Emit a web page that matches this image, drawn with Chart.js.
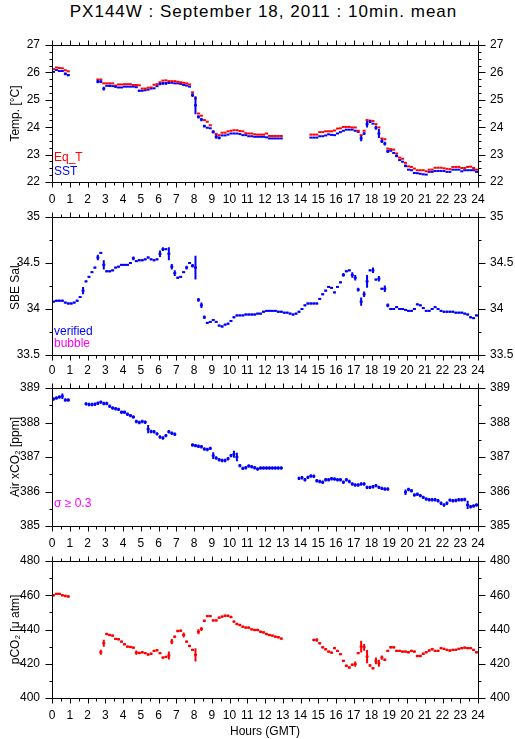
<!DOCTYPE html>
<html>
<head>
<meta charset="utf-8">
<script src="https://cdn.jsdelivr.net/npm/chart.js@4.4.1/dist/chart.umd.min.js"></script>
<style>
  body { margin: 0; background: #fff; }
  #page { position: relative; width: 515px; height: 739px; font-family: 'Liberation Sans', Arial, sans-serif; color: #000; }
  #title { position: absolute; left: 12px; top: 0; width: 503px; text-align: center; font-size: 17px; letter-spacing: 1px; line-height: 24px; }
  #xlabel { position: absolute; left: 52px; width: 426px; top: 723px; text-align: center; font-size: 12px; line-height: 16px; }
  canvas { position: absolute; left: 0; }
</style>
</head>
<body>
<div id="page">
  <div id="title">PX144W : September 18, 2011 : 10min. mean</div>
  <canvas id="tempChart" width="515" height="197" style="top:15px"></canvas>
  <canvas id="salChart" width="515" height="198" style="top:187px"></canvas>
  <canvas id="xco2Chart" width="515" height="198" style="top:358px"></canvas>
  <canvas id="pco2Chart" width="515" height="197" style="top:531px"></canvas>
  <div id="xlabel">Hours (GMT)</div>
</div>
<script>
// 10-minute means: slot k covers hours [k/6, (k+1)/6), one row per hour
const slotHours = Array.from({ length: 144 }, (_, k) => (k + 0.5) / 6);
const _ = null;

const eqT = [
  26.12, 26.18, 26.16, 26.15, 26.08, 26.04,
  _, _, _, _, _, _,
  _, _, _, 25.74, 25.74, 25.60,
  25.60, 25.60, 25.60, 25.52, 25.56, 25.56,
  25.57, 25.57, 25.57, 25.54, 25.54, 25.53,
  25.41, 25.41, 25.44, 25.45, 25.55, 25.57,
  25.64, 25.70, 25.71, 25.68, 25.68, 25.68,
  25.66, 25.64, 25.62, 25.60, 25.56, 25.27,
  25.05, 24.50, 24.42, 24.26, 24.20, 24.07,
  23.83, 23.75, 23.71, 23.80, 23.80, 23.85,
  23.87, 23.89, 23.89, 23.86, 23.85, 23.78,
  23.77, 23.77, 23.74, 23.73, 23.73, 23.73,
  23.77, 23.68, 23.68, 23.68, 23.68, 23.68,
  _, _, _, _, _, _,
  _, _, _, 23.73, 23.73, 23.73,
  23.82, 23.82, 23.85, 23.85, 23.85, 23.88,
  23.95, 23.96, 24.01, 24.01, 24.01, 23.99,
  23.99, 23.87, 23.71, 23.87, 24.26, 24.24,
  24.23, 24.11, 23.99, 23.59, 23.56, 23.22,
  23.20, 23.18, 23.04, 22.89, 22.85, 22.70,
  22.57, 22.55, 22.49, 22.43, 22.43, 22.43,
  22.39, 22.45, 22.45, 22.52, 22.52, 22.52,
  22.50, 22.48, 22.47, 22.55, 22.55, 22.55,
  22.51, 22.51, 22.55, 22.56, 22.51, 22.45
];

const sst = [
  26.02, 26.09, 26.05, 26.05, 25.95, 25.90,
  _, _, _, _, _, _,
  _, _, _, 25.66, 25.66, 25.41,
  25.51, 25.51, 25.50, 25.48, 25.45, 25.45,
  25.48, 25.48, 25.48, 25.48, 25.46, 25.33,
  25.33, 25.35, 25.37, 25.41, 25.42, 25.50,
  25.58, 25.60, 25.60, 25.62, 25.62, 25.60,
  25.60, 25.58, 25.54, 25.52, 25.48, 25.17,
  24.80, 24.38, 24.28, 24.04, 23.98, 23.96,
  23.83, 23.65, 23.61, 23.70, 23.70, 23.73,
  23.77, 23.77, 23.77, 23.75, 23.71, 23.71,
  23.67, 23.67, 23.65, 23.65, 23.65, 23.65,
  23.63, 23.59, 23.59, 23.59, 23.59, 23.59,
  _, _, _, _, _, _,
  _, _, _, 23.62, 23.62, 23.62,
  23.67, 23.67, 23.70, 23.74, 23.72, 23.71,
  23.77, 23.82, 23.87, 23.91, 23.91, 23.91,
  23.87, 23.83, 23.59, 23.77, 24.11, 24.20,
  24.13, 23.98, 23.77, 23.49, 23.40, 23.12,
  23.14, 23.06, 22.95, 22.80, 22.74, 22.59,
  22.45, 22.43, 22.33, 22.32, 22.30, 22.28,
  22.27, 22.37, 22.37, 22.40, 22.40, 22.40,
  22.40, 22.37, 22.37, 22.45, 22.45, 22.45,
  22.39, 22.43, 22.43, 22.43, 22.43, 22.37
];
// [slot, standard deviation] for the 10-min means with visible spread
const sstSigma = [
  [4, 0.05], [5, 0.04], [15, 0.06], [16, 0.05], [17, 0.07], [19, 0.04], [21, 0.04],
  [29, 0.04], [36, 0.05], [37, 0.05], [38, 0.05], [39, 0.04], [47, 0.07], [48, 0.33],
  [49, 0.06], [50, 0.06], [51, 0.05], [54, 0.06], [55, 0.07], [56, 0.05],
  [104, 0.10], [105, 0.05], [106, 0.12], [107, 0.05], [109, 0.07], [110, 0.16],
  [111, 0.07], [112, 0.07], [113, 0.06], [116, 0.05], [119, 0.05]
];

const salinity = [
  34.08, 34.09, 34.09, 34.09, 34.07, 34.06,
  34.06, 34.07, 34.09, 34.13, 34.20, 34.30,
  34.35, 34.40, 34.45, 34.56, 34.61, 34.48,
  34.41, 34.41, 34.42, 34.45, 34.46, 34.48,
  34.48, 34.48, 34.50, 34.55, 34.52, 34.53,
  34.53, 34.54, 34.56, 34.54, 34.53, 34.54,
  34.60, 34.65, 34.65, 34.60, 34.46, 34.39,
  34.34, 34.35, 34.40, 34.45, 34.50, 34.47,
  34.45, 34.10, 34.04, 33.91, 33.85, 33.86,
  33.88, 33.86, 33.82, 33.81, 33.83, 33.84,
  33.87, 33.91, 33.93, 33.93, 33.93, 33.94,
  33.94, 33.94, 33.94, 33.95, 33.95, 33.97,
  33.98, 33.98, 33.98, 33.98, 33.97, 33.97,
  33.96, 33.96, 33.95, 33.94, 33.95, 33.97,
  34.00, 34.04, 34.06, 34.06, 34.06, 34.06,
  34.11, 34.16, 34.20, 34.24, 34.23, 34.18,
  34.24, 34.29, 34.37, 34.41, 34.42, 34.37,
  34.34, 34.21, 34.08, 34.16, 34.30, 34.42,
  34.42, 34.32, 34.33, 34.22, 34.22, 34.04,
  34.00, 34.00, 34.02, 34.00, 34.00, 33.99,
  33.98, 33.98, 34.00, 34.05, 34.04, 34.01,
  33.98, 33.98, 34.00, 34.02, 34.00, 33.98,
  33.97, 33.97, 33.97, 33.97, 33.96, 33.96,
  33.96, 33.95, 33.94, 33.91, 33.90, 33.93
];
const salSigma = [
  [10, 0.04], [15, 0.03], [17, 0.05], [27, 0.02], [36, 0.035], [37, 0.02], [39, 0.07],
  [40, 0.03], [41, 0.03], [45, 0.02], [47, 0.02], [48, 0.13], [49, 0.02], [50, 0.03],
  [51, 0.02], [98, 0.02], [101, 0.03], [102, 0.03], [103, 0.02], [104, 0.045],
  [105, 0.03], [106, 0.07], [108, 0.03], [110, 0.03], [112, 0.035], [113, 0.02]
];

const xco2 = [
  388.68, 388.71, 388.74, 388.76, 388.65, 388.65,
  _, _, _, _, _, 388.54,
  388.52, 388.52, 388.53, 388.56, 388.59, 388.55,
  388.55, 388.47, 388.42, 388.40, 388.38, 388.30,
  388.30, 388.24, 388.20, 388.16, 388.03, 388.00,
  388.03, 388.01, 387.81, 387.74, 387.73, 387.67,
  387.58, 387.55, 387.62, 387.73, 387.69, 387.66,
  _, _, _, _, _, 387.35,
  387.33, 387.31, 387.30, 387.23, 387.22, 387.25,
  387.04, 386.97, 386.92, 386.90, 386.90, 386.95,
  387.04, 387.08, 387.00, 386.75, 386.67, 386.69,
  386.74, 386.72, 386.69, 386.65, 386.68, 386.68,
  386.68, 386.68, 386.68, 386.68, 386.68, 386.68,
  _, _, _, _, _, 386.38,
  386.40, 386.34, 386.41, 386.45, 386.44, 386.31,
  386.29, 386.27, 386.34, 386.34, 386.37, 386.36,
  386.34, 386.34, 386.27, 386.34, 386.29, 386.22,
  386.19, 386.19, 386.22, 386.22, 386.12, 386.12,
  386.14, 386.17, 386.12, 386.09, 386.07, 386.07,
  _, _, _, _, _, 385.98,
  386.06, 386.02, 385.90, 385.92, 385.88, 385.83,
  385.78, 385.76, 385.76, 385.76, 385.73, 385.66,
  385.61, 385.66, 385.75, 385.73, 385.74, 385.76,
  385.76, 385.77, 385.61, 385.56, 385.58, 385.61
];
const xco2SigmaBase = 0.05;
const xco2Sigma = [[3, 0.08], [32, 0.12], [54, 0.10], [61, 0.10], [62, 0.12], [119, 0.08], [140, 0.12]];

const pco2 = [
  460.0, 460.8, 460.8, 460.0, 459.6, 459.3,
  _, _, _, _, _, _,
  _, _, _, _, 426.7, 432.0,
  437.4, 436.8, 436.4, 434.5, 434.3, 432.9,
  431.4, 430.0, 429.8, 429.4, 426.5, 426.3,
  426.7, 426.2, 425.4, 425.8, 427.5, 427.9,
  426.2, 423.6, 424.0, 424.8, 432.9, 435.8,
  439.1, 439.3, 436.8, 432.9, 430.4, 428.1,
  425.2, 438.7, 440.3, 445.1, 447.8, 447.8,
  445.3, 445.3, 446.9, 447.5, 448.0, 448.0,
  447.3, 444.6, 443.2, 442.6, 441.6, 441.1,
  441.1, 440.1, 439.7, 439.7, 438.7, 438.3,
  437.4, 436.8, 436.4, 435.8, 435.5, 434.7,
  _, _, _, _, _, _,
  _, _, _, _, 433.9, 433.9,
  432.0, 429.6, 428.5, 427.1, 426.5, 429.1,
  427.5, 425.6, 421.7, 418.8, 417.8, 419.4,
  419.8, 426.2, 430.0, 429.6, 424.2, 419.0,
  417.4, 421.7, 420.3, 423.6, 422.3, 427.5,
  429.6, 429.6, 427.5, 427.5, 427.1, 427.1,
  426.7, 427.5, 427.1, 424.5, 424.5, 425.8,
  426.7, 427.7, 428.5, 427.5, 427.5, 429.1,
  428.7, 428.1, 427.7, 428.1, 428.1, 428.7,
  429.1, 429.4, 429.1, 429.1, 428.1, 426.7
];
const pco2SigmaBase = 0.7;
const pco2Sigma = [
  [16, 1.5], [17, 2.0], [28, 1.2], [39, 2.3], [40, 1.5], [44, 1.5], [48, 3.9], [49, 1.5],
  [50, 1.2], [89, 1.0], [102, 1.5], [104, 3.5], [105, 2.0], [106, 3.9], [109, 2.0],
  [110, 2.0], [111, 1.2]
];

const RED = '#ff0000', BLUE = '#0000ff', MAGENTA = '#ff00ff';

Chart.defaults.font.family = "'Liberation Sans', Arial, sans-serif";
Chart.defaults.font.size = 12;
Chart.defaults.color = '#000';

function toPoints(values) {
  return values.map((v, k) => ({ x: slotHours[k], y: v }));
}

function sigmaFor(values, base, extra) {
  const s = values.map(v => (v === null ? 0 : base));
  extra.forEach(([k, e]) => { s[k] = e; });
  return s;
}

// box round the plot area, with major/minor ticks pointing outward
const frameTicks = {
  id: 'frameTicks',
  afterDraw(chart, args, opts) {
    const { ctx, chartArea: a, scales } = chart;
    const px = v => Math.round(v) + 0.5;
    const L = px(a.left), R = px(a.right), T = px(a.top), B = px(a.bottom);
    ctx.save();
    ctx.strokeStyle = '#000';
    ctx.lineWidth = 1;
    ctx.beginPath();
    ctx.rect(L, T, R - L, B - T);
    for (let h = 0; h <= 24; h += 0.5) {
      const x = px(scales.x.getPixelForValue(h));
      const len = Number.isInteger(h) ? 5 : 3;
      ctx.moveTo(x, T); ctx.lineTo(x, T - len);
      ctx.moveTo(x, B); ctx.lineTo(x, B + len);
    }
    const ys = scales.y;
    const n = Math.round((ys.max - ys.min) / opts.minor);
    for (let i = 0; i <= n; i++) {
      const v = ys.min + i * opts.minor;
      const y = px(ys.getPixelForValue(v));
      const r = v / opts.major;
      const len = Math.abs(r - Math.round(r)) < 1e-6 ? 7 : 3;
      ctx.moveTo(L, y); ctx.lineTo(L - len, y);
      ctx.moveTo(R, y); ctx.lineTo(R + len, y);
    }
    ctx.stroke();
    ctx.restore();
  }
};

// vertical bar of +/- one standard deviation on each 10-min mean
const errorBars = {
  id: 'errorBars',
  afterDatasetsDraw(chart) {
    const { ctx } = chart;
    const ys = chart.scales.y;
    chart.data.datasets.forEach((ds, i) => {
      if (!ds.sigma) return;
      const meta = chart.getDatasetMeta(i);
      ctx.save();
      ctx.strokeStyle = ds.borderColor;
      ctx.lineWidth = 2;
      ctx.beginPath();
      ds.data.forEach((p, k) => {
        const s = ds.sigma[k];
        if (p.y === null || !s) return;
        const x = meta.data[k].x;
        ctx.moveTo(x, ys.getPixelForValue(p.y - s));
        ctx.lineTo(x, ys.getPixelForValue(p.y + s));
      });
      ctx.stroke();
      ctx.restore();
    });
  }
};

const panelNotes = {
  id: 'panelNotes',
  afterDraw(chart, args, opts) {
    const { ctx, chartArea: a } = chart;
    ctx.save();
    ctx.font = "12px 'Liberation Sans', Arial, sans-serif";
    ctx.textBaseline = 'middle';
    (opts.notes || []).forEach(n => {
      ctx.fillStyle = n.color;
      ctx.fillText(n.text, a.left + 2, a.top + n.dy);
    });
    ctx.restore();
  }
};

function xAxis(position, showLabels) {
  return {
    type: 'linear', position, min: 0, max: 24,
    afterFit: s => { s.height = 30; },
    grid: { display: false, drawTicks: false },
    border: { display: false },
    ticks: { display: showLabels, stepSize: 1, padding: 10, maxRotation: 0, autoSkip: false, callback: v => String(v) }
  };
}

function yAxis(position, p) {
  const left = position === 'left';
  return {
    type: 'linear', position, min: p.yMin, max: p.yMax,
    afterFit: s => { s.width = left ? 52 : 37; },
    grid: { display: false, drawTicks: false },
    border: { display: false },
    ticks: { stepSize: p.yStep, padding: 12, callback: v => String(v) },
    title: { display: left, text: p.yTitle, padding: { top: 8, bottom: 0 } }
  };
}

function makePanel(canvasId, p) {
  new Chart(document.getElementById(canvasId), {
    type: 'scatter',
    data: {
      datasets: p.series.map(s => ({
        label: s.label,
        data: toPoints(s.values),
        sigma: s.sigma,
        showLine: false,
        pointStyle: 'line',
        pointRadius: 1.5,
        pointHoverRadius: 1.5,
        pointBorderWidth: 2,
        borderColor: s.color,
        backgroundColor: s.color
      }))
    },
    options: {
      responsive: false,
      animation: false,
      events: [],
      layout: { padding: 0 },
      plugins: {
        legend: { display: false },
        tooltip: { enabled: false },
        frameTicks: { major: p.yStep, minor: p.yMinor },
        panelNotes: { notes: p.notes }
      },
      scales: {
        x: xAxis('bottom', p.bottomLabels),
        x2: xAxis('top', p.topLabels),
        y: yAxis('left', p),
        y2: yAxis('right', p)
      }
    },
    plugins: [frameTicks, errorBars, panelNotes]
  });
}

makePanel('tempChart', {
  yMin: 22, yMax: 27, yStep: 1, yMinor: 0.25, yTitle: 'Temp. [°C]',
  topLabels: false, bottomLabels: true,
  series: [
    { label: 'Eq_T', values: eqT, color: RED },
    { label: 'SST', values: sst, color: BLUE, sigma: sigmaFor(sst, 0, sstSigma) }
  ],
  notes: [{ text: 'Eq_T', color: RED, dy: 113 }, { text: 'SST', color: BLUE, dy: 127 }]
});

makePanel('salChart', {
  yMin: 33.5, yMax: 35, yStep: 0.5, yMinor: 0.25, yTitle: 'SBE Sal.',
  topLabels: false, bottomLabels: false,
  series: [{ label: 'verified', values: salinity, color: BLUE, sigma: sigmaFor(salinity, 0.01, salSigma) }],
  notes: [{ text: 'verified', color: BLUE, dy: 115 }, { text: 'bubble', color: MAGENTA, dy: 127 }]
});

makePanel('xco2Chart', {
  yMin: 385, yMax: 389, yStep: 1, yMinor: 0.5, yTitle: 'Air xCO₂ [ppm]',
  topLabels: true, bottomLabels: false,
  series: [{ label: 'xCO2', values: xco2, color: BLUE, sigma: sigmaFor(xco2, xco2SigmaBase, xco2Sigma) }],
  notes: [{ text: 'σ ≥ 0.3', color: MAGENTA, dy: 116 }]
});

makePanel('pco2Chart', {
  yMin: 400, yMax: 480, yStep: 20, yMinor: 10, yTitle: 'pCO₂ [μ atm]',
  topLabels: true, bottomLabels: true,
  series: [{ label: 'pCO2', values: pco2, color: RED, sigma: sigmaFor(pco2, pco2SigmaBase, pco2Sigma) }],
  notes: []
});
</script>
</body>
</html>
